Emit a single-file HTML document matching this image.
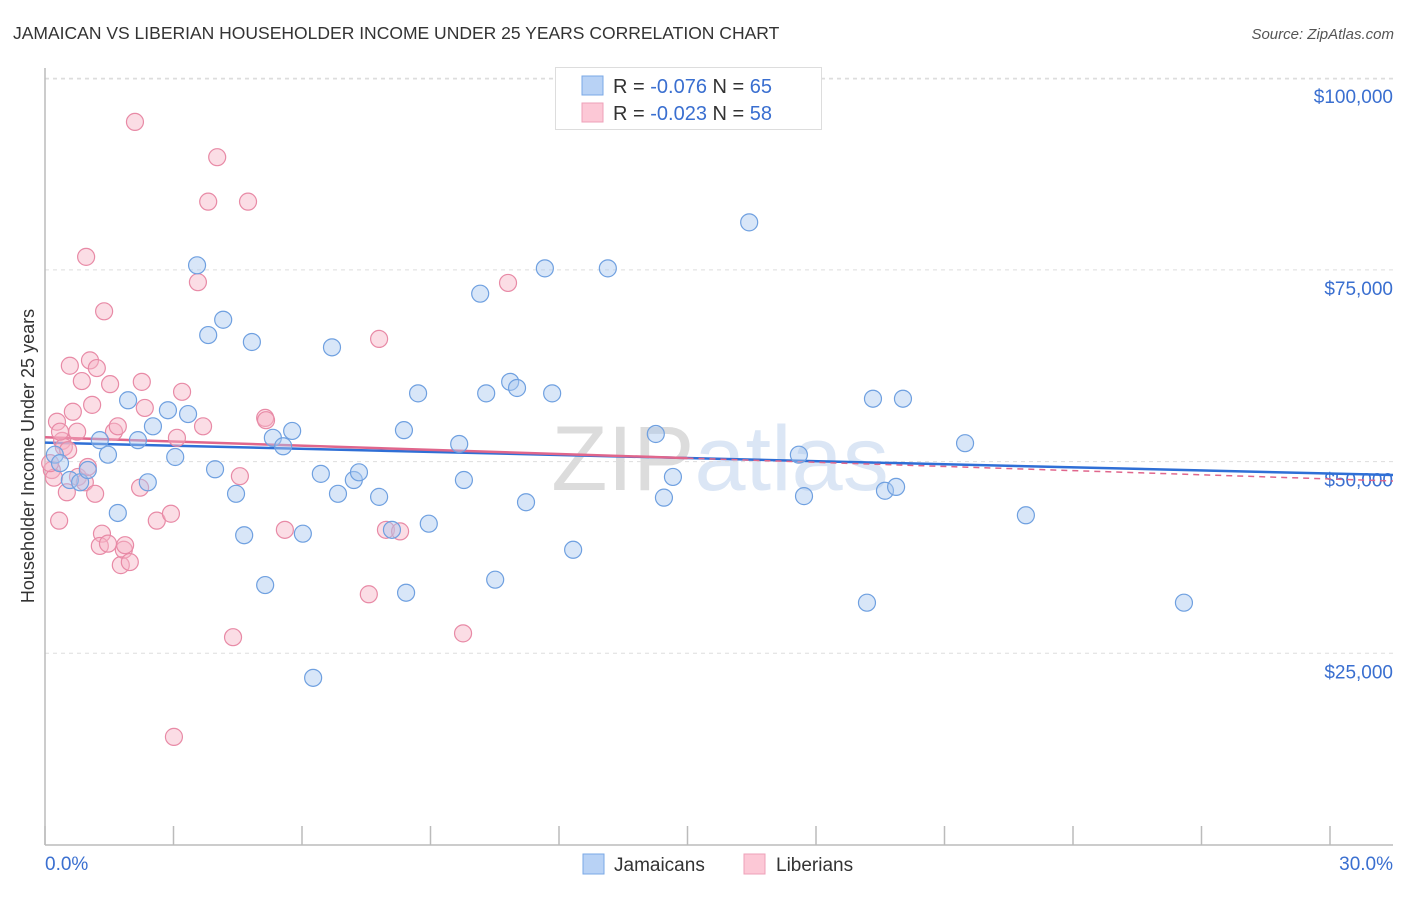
<!DOCTYPE html>
<html><head><meta charset="utf-8"><style>
body{margin:0;background:#fff;font-family:"Liberation Sans",sans-serif}
svg text{font-family:"Liberation Sans",sans-serif}
</style></head><body>
<svg id="chart" width="1406" height="892" xmlns="http://www.w3.org/2000/svg">
<text x="13" y="39" font-size="17.5" fill="#333">JAMAICAN VS LIBERIAN HOUSEHOLDER INCOME UNDER 25 YEARS CORRELATION CHART</text>
<text x="1394" y="39" font-size="15" fill="#555" text-anchor="end" font-style="italic">Source: ZipAtlas.com</text>
<text x="720" y="490" font-size="92" text-anchor="middle" fill="#e4e4e4" font-family="Liberation Serif"><tspan fill="#dcdcdc">ZIP</tspan><tspan fill="#dbe6f5" font-family="Liberation Sans">atlas</tspan></text>
<text transform="translate(34,456) rotate(-90)" font-size="18" fill="#333" text-anchor="middle">Householder Income Under 25 years</text>
<g id="grid"></g><g id="axes"></g><g id="trend"></g><g id="pts"></g>
<g>
<rect x="555.5" y="67.5" width="266" height="62" fill="#fff" stroke="#ddd"/>
<rect x="582" y="76" width="21" height="19" fill="#b8d2f5" stroke="#7aa8e6"/>
<rect x="582" y="103" width="21" height="19" fill="#fcc8d6" stroke="#eea0b8"/>
<text x="613" y="93" font-size="20" fill="#333">R = <tspan fill="#3a6fd0">-0.076</tspan>   N = <tspan fill="#3a6fd0">65</tspan></text>
<text x="613" y="120" font-size="20" fill="#333">R = <tspan fill="#3a6fd0">-0.023</tspan>   N = <tspan fill="#3a6fd0">58</tspan></text>
</g>
<g>
<rect x="583" y="854" width="21" height="20" fill="#b8d2f5" stroke="#7aa8e6"/>
<text x="614" y="871" font-size="19" fill="#333">Jamaicans</text>
<rect x="744" y="854" width="21" height="20" fill="#fcc8d6" stroke="#eea0b8"/>
<text x="776" y="871" font-size="19" fill="#333">Liberians</text>
</g>
</svg>
<script>
const xTicks=[0,3,6,9,12,15,18,21,24,27,30];
const yTicks=[25000,50000,75000,100000];
const yTickLabels=["$25,000","$50,000","$75,000","$100,000"];
const jamX=[0.23,0.35,0.58,0.82,1.00,1.28,1.47,1.70,1.94,2.17,2.40,2.52,2.87,3.04,3.34,3.55,3.81,3.97,4.16,4.46,4.65,4.83,5.14,5.32,5.56,5.77,6.02,6.26,6.44,6.70,6.84,7.21,7.33,7.80,8.10,8.38,8.43,8.71,8.96,9.67,9.78,10.16,10.30,10.51,10.86,11.02,11.23,11.67,11.84,12.33,13.14,14.26,14.45,14.66,16.44,17.60,17.72,19.19,19.33,19.61,19.87,20.03,21.48,22.90,26.59];
const jamY=[50.9,49.8,47.6,47.3,48.9,52.8,50.9,43.3,58.0,52.8,47.3,54.6,56.7,50.6,56.2,75.6,66.5,49.0,68.5,45.8,40.4,65.6,33.9,53.1,52.0,54.0,40.6,21.8,48.4,64.9,45.8,47.6,48.6,45.4,41.1,54.1,32.9,58.9,41.9,52.3,47.6,71.9,58.9,34.6,60.4,59.6,44.7,75.2,58.9,38.5,75.2,53.6,45.3,48.0,81.2,50.9,45.5,31.6,58.2,46.2,46.7,58.2,52.4,43.0,31.6];
const libX=[0.16,0.21,0.28,0.33,0.40,0.44,0.51,0.54,0.58,0.65,0.75,0.77,0.86,0.93,0.96,1.00,1.05,1.10,1.17,1.21,1.33,1.28,1.38,1.47,1.52,1.61,1.70,1.77,1.84,1.87,1.98,2.10,2.22,2.26,2.33,2.61,2.94,3.01,3.08,3.20,3.57,3.69,3.81,4.02,4.39,4.55,4.74,5.14,5.16,5.60,7.56,7.80,7.96,8.29,9.76,10.81,0.12,0.35];
const libY=[48.9,47.9,55.2,42.3,52.7,51.9,46.0,51.5,62.5,56.5,53.9,48.0,60.5,47.3,76.7,49.3,63.2,57.4,45.8,62.2,40.6,39.0,69.6,39.3,60.1,53.9,54.6,36.5,38.5,39.1,36.9,94.3,46.6,60.4,57.0,42.3,43.2,14.1,53.1,59.1,73.4,54.6,83.9,89.7,27.1,48.1,83.9,55.7,55.4,41.1,32.7,66.0,41.1,40.9,27.6,73.3,49.8,53.9];
const NS="http://www.w3.org/2000/svg";
const X=v=>45+v/30*1285, Y=v=>845-v/25000*191.7;
function mk(p,t,a){const e=document.createElementNS(NS,t);for(const k in a)e.setAttribute(k,a[k]);document.getElementById(p).appendChild(e);return e;}
yTicks.forEach((t,i)=>{
 const l=mk('grid','line',{x1:45,x2:1393,y1:Y(t),y2:Y(t),stroke:'#ddd','stroke-dasharray':'4,4'});
 
 
 const tx=mk('grid','text',{x:1393,y:Y(t)+25,'font-size':19,fill:'#3a6fd0','text-anchor':'end'});
 tx.textContent=yTickLabels[i];
 
 
});
const tg=mk('grid','line',{x1:45,x2:1393,y1:79,y2:79,stroke:'#ddd','stroke-dasharray':'4,4'});


const ya=mk('axes','line',{x1:45,x2:45,y1:68,y2:845,stroke:'#bbb','stroke-width':1.5});


const xa=mk('axes','line',{x1:45,x2:1393,y1:845,y2:845,stroke:'#bbb','stroke-width':1.5});


xTicks.forEach(t=>{
 const l=mk('axes','line',{x1:X(t),x2:X(t),y1:826,y2:845,stroke:'#bbb','stroke-width':1.5});
 
 
});
const x0=mk('axes','text',{x:45,y:870,'font-size':19,fill:'#3a6fd0'});x0.textContent=xTicks[0].toFixed(1)+'%';


const x1=mk('axes','text',{x:1393,y:870,'font-size':19,fill:'#3a6fd0','text-anchor':'end'});x1.textContent=xTicks[xTicks.length-1].toFixed(1)+'%';


function fit(xs,ys){const n=xs.length;let mx=0,my=0;for(let i=0;i<n;i++){mx+=xs[i];my+=ys[i]*1000;}mx/=n;my/=n;let sxy=0,sxx=0;for(let i=0;i<n;i++){sxy+=(xs[i]-mx)*(ys[i]*1000-my);sxx+=(xs[i]-mx)**2;}const b=sxy/sxx;return[my-b*mx,b];}
function pts(xs,ys,fill,stroke,name){xs.forEach((x,i)=>{const c=mk('pts','circle',{cx:X(x),cy:Y(ys[i]*1000),r:8.5,fill:fill,'fill-opacity':0.45,stroke:stroke,'stroke-width':1.2});
 
 });}
pts(libX,libY,'#f7b3c6','#e88aa6','liberian-point');
pts(jamX,jamY,'#a9c8f0','#6fa0e0','jamaican-point');
const [ja,jb]=fit(jamX,jamY),[la,lb]=fit(libX,libY);
const xe=(1393-45)/1285*30;
const jl=mk('trend','line',{x1:X(0),y1:Y(ja),x2:X(xe),y2:Y(ja+jb*xe),stroke:'#2f6fd6','stroke-width':2.5});


const ll=mk('trend','line',{x1:X(0),y1:Y(la),x2:X(15),y2:Y(la+lb*15),stroke:'#e0668c','stroke-width':2.5});


const ld=mk('trend','line',{x1:X(15),y1:Y(la+lb*15),x2:X(xe),y2:Y(la+lb*xe),stroke:'#e0668c','stroke-width':1.5,'stroke-dasharray':'6,5'});


</script>
</body></html>
